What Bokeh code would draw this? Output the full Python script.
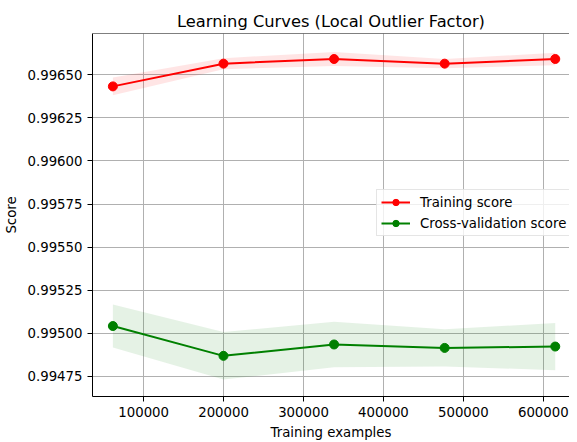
from bokeh.plotting import figure
from bokeh.models import (Range1d, FixedTicker, NumeralTickFormatter, Span,
                          Legend, LegendItem, ColumnDataSource)
from bokeh.embed import file_html
from bokeh.resources import INLINE

# ---- data ----
train_sizes = [61495, 199859, 338222, 476586, 614950]
train_mean = [0.996433, 0.996565, 0.996592, 0.996565, 0.996592]
train_std = [0.000051, 0.000032, 0.000040, 0.000027, 0.000036]
test_mean = [0.995042, 0.994869, 0.994935, 0.994915, 0.994923]
test_std = [0.000125, 0.000138, 0.000132, 0.000108, 0.000137]

x_ticks = [100000, 200000, 300000, 400000, 500000, 600000]
y_ticks = [0.99475, 0.99500, 0.99525, 0.99550, 0.99575, 0.99600, 0.99625, 0.99650]

x_lim = (36000, 632773)
y_lim = (0.994633, 0.996740)

title_text = "Learning Curves (Local Outlier Factor)"
x_label = "Training examples"
y_label = "Score"

FONT = "DejaVu Sans"
FS = "13.3px"

src = ColumnDataSource(dict(
    x=train_sizes,
    tr=train_mean,
    tr_lo=[m - s for m, s in zip(train_mean, train_std)],
    tr_hi=[m + s for m, s in zip(train_mean, train_std)],
    te=test_mean,
    te_lo=[m - s for m, s in zip(test_mean, test_std)],
    te_hi=[m + s for m, s in zip(test_mean, test_std)],
))

p = figure(width=569, height=442, output_backend="svg", toolbar_location=None,
           x_range=Range1d(*x_lim), y_range=Range1d(*y_lim),
           min_border_left=90, min_border_right=0, min_border_top=33,
           min_border_bottom=44, title=title_text)

p.outline_line_color = None
p.background_fill_color = "white"
p.border_fill_color = "white"

p.title.text_font = FONT
p.title.text_font_size = "16.3px"
p.title.text_font_style = "normal"
p.title.text_color = "black"
p.title.align = "center"
p.title.offset = 8
p.title.standoff = 5

p.varea(x="x", y1="tr_lo", y2="tr_hi", source=src, fill_color="#ff0000", fill_alpha=0.1)
p.varea(x="x", y1="te_lo", y2="te_hi", source=src, fill_color="#008000", fill_alpha=0.1)

tr_line = p.line("x", "tr", source=src, line_color="#ff0000", line_width=2)
tr_pts = p.scatter("x", "tr", source=src, size=9, fill_color="#ff0000", line_color="#ff0000")
te_line = p.line("x", "te", source=src, line_color="#008000", line_width=2)
te_pts = p.scatter("x", "te", source=src, size=9, fill_color="#008000", line_color="#008000")

p.xaxis.ticker = FixedTicker(ticks=x_ticks, minor_ticks=[])
p.yaxis.ticker = FixedTicker(ticks=y_ticks, minor_ticks=[])
p.xaxis.formatter = NumeralTickFormatter(format="0")
p.yaxis.formatter = NumeralTickFormatter(format="0.00000")

for ax in (p.xaxis, p.yaxis):
    ax.axis_line_color = "black"
    ax.axis_line_width = 1
    ax.major_tick_line_color = "black"
    ax.major_tick_line_width = 1
    ax.major_tick_in = 0
    ax.major_tick_out = 5
    ax.minor_tick_line_color = None
    ax.major_label_standoff = 5
    ax.major_label_text_font = FONT
    ax.major_label_text_font_size = FS
    ax.major_label_text_color = "black"
    ax.axis_label_text_font = FONT
    ax.axis_label_text_font_size = FS
    ax.axis_label_text_font_style = "normal"
    ax.axis_label_text_color = "black"

p.xaxis.axis_label = x_label
p.yaxis.axis_label = y_label
p.xaxis.axis_label_standoff = 5
p.yaxis.axis_label_standoff = 6

p.grid.grid_line_color = "#b0b0b0"
p.grid.grid_line_width = 1

p.add_layout(Span(location=y_lim[1], dimension="width", line_color="black", line_width=1))

legend = Legend(items=[
    LegendItem(label="Training score", renderers=[tr_line, tr_pts]),
    LegendItem(label="Cross-validation score", renderers=[te_line, te_pts]),
], location=(284, 160))
legend.margin = 0
legend.padding = 4
legend.spacing = 5
legend.glyph_width = 29
legend.glyph_height = 16
legend.label_height = 16
legend.label_standoff = 10
legend.label_text_font = FONT
legend.label_text_font_size = FS
legend.label_text_color = "black"
legend.border_line_color = "#cccccc"
legend.border_line_width = 1
legend.background_fill_color = "white"
legend.background_fill_alpha = 0.8
p.add_layout(legend)

open("out.html", "w").write(file_html(p, INLINE))
